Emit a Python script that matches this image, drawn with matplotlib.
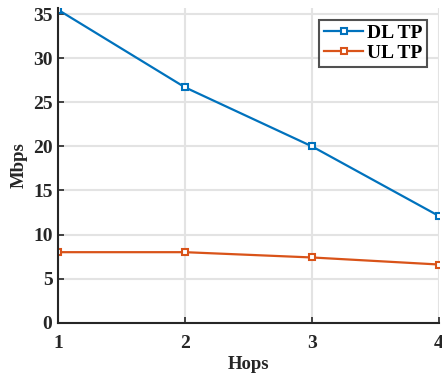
import matplotlib
matplotlib.use("Agg")
import matplotlib.pyplot as plt

hops = [1, 2, 3, 4]
dl_tp = [35.5, 26.7, 20.0, 12.1]
ul_tp = [8.0, 8.0, 7.4, 6.6]
xticks = [1, 2, 3, 4]
yticks = [0, 5, 10, 15, 20, 25, 30, 35]

plt.rcParams['font.family'] = ['Liberation Serif', 'DejaVu Serif']
plt.rcParams['font.weight'] = 'bold'

fig = plt.figure(figsize=(4.42, 3.75), dpi=100)
ax = fig.add_axes([58/442, 1-322.7/375, (439-58)/442, (322.7-8)/375])

ax.plot(hops, dl_tp, color='#0072BD', lw=1.6, marker='s', ms=5, mfc='white', mec='#0072BD', mew=1.5, label='DL TP')
ax.plot(hops, ul_tp, color='#D95319', lw=1.6, marker='s', ms=5, mfc='white', mec='#D95319', mew=1.5, label='UL TP')

ax.set_xlim(1, 4)
ax.set_ylim(0, 35.7)
ax.set_xticks(xticks)
ax.set_yticks(yticks)
ax.tick_params(direction='in', length=4, width=1.2, labelsize=14, colors='#262626', pad=4)
ax.tick_params(axis='x', pad=9)
for lab in ax.get_xticklabels() + ax.get_yticklabels():
    lab.set_fontweight('bold')
ax.grid(True, color='#e3e3e3', lw=1.5)
ax.set_axisbelow(True)
for s in ['top', 'right']:
    ax.spines[s].set_visible(False)
for s in ['left', 'bottom']:
    ax.spines[s].set_linewidth(1.5)
    ax.spines[s].set_color('#262626')
ax.set_xlabel('Hops', fontsize=13.5, fontweight='bold', color='#262626', labelpad=3)
ax.set_ylabel('Mbps', fontsize=13.5, fontweight='bold', color='#262626', labelpad=4)
leg = ax.legend(loc='upper right', fontsize=14, frameon=True, fancybox=False, edgecolor='#262626',
                handlelength=2.0, borderaxespad=0.6, labelspacing=0.1, handletextpad=0.2, borderpad=0.25,
                markerscale=0.8)
leg.get_frame().set_linewidth(1.5)
for t in leg.get_texts():
    t.set_fontweight('bold')

fig.savefig('out.png', dpi=100)
